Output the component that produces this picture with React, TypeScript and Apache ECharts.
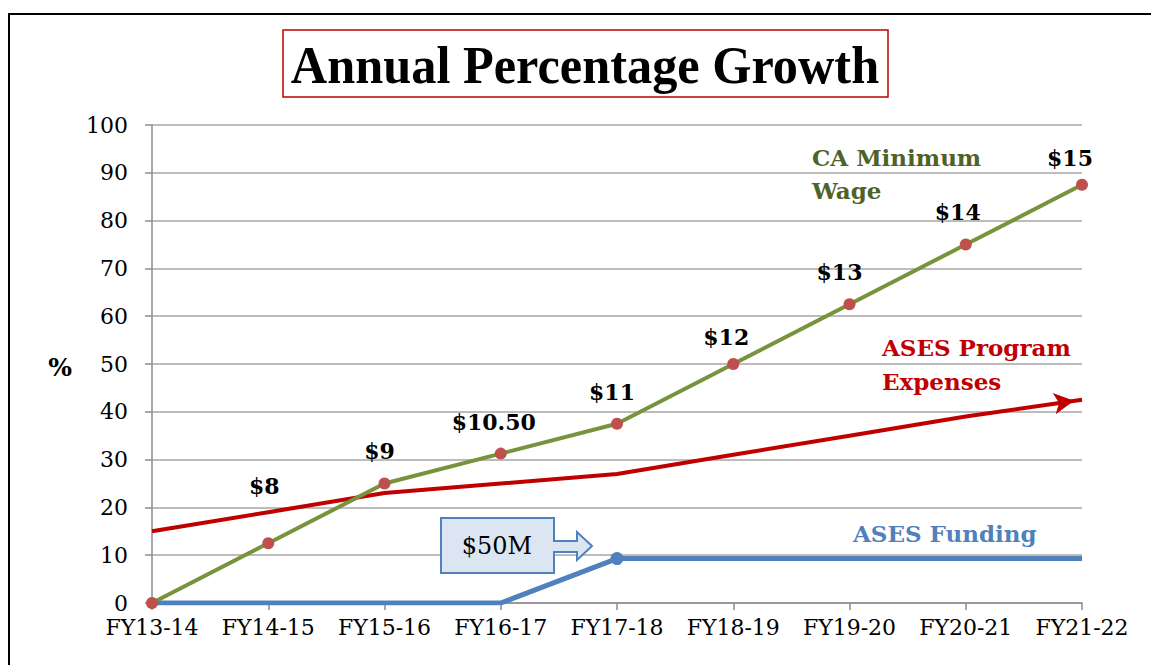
import React, { useEffect, useRef } from "react";
import * as echarts from "echarts";

const categories = ["FY13-14", "FY14-15", "FY15-16", "FY16-17", "FY17-18", "FY18-19", "FY19-20", "FY20-21", "FY21-22"];
const minWage = [0, 12.5, 25, 31.25, 37.5, 50, 62.5, 75, 87.5];
const wageLabels = ["", "$8", "$9", "$10.50", "$11", "$12", "$13", "$14", "$15"];
const wageLabelOffsets: number[][] = [[0, 0], [-4, -34], [-5, -10], [-7, -9], [-5, -9], [-7, -4], [-10, -9], [-8, -10], [-12, -4]];
const programExpenses = [15, 19, 23, 25, 27, 31, 35, 39, 42.5];
const asesFunding = [0, 0, 0, 0, 9.3, 9.3, 9.3, 9.3, 9.3];
const yTicks = { min: 0, max: 100, interval: 10 };

const FONT = "DejaVu Serif";

export default function App() {
  const ref = useRef<HTMLDivElement>(null);
  useEffect(() => {
    if (!ref.current) return;
    const chart = echarts.init(ref.current, null, { renderer: "svg" });
    const lastIdx = programExpenses.length - 1;
    chart.setOption({
      animation: false,
      backgroundColor: "#ffffff",
      grid: { left: 152, right: 69, top: 125, bottom: 62, containLabel: false },
      xAxis: {
        type: "category",
        data: categories,
        boundaryGap: false,
        axisLine: { lineStyle: { color: "#8c8c8c", width: 1.5 } },
        axisTick: { show: true, interval: 0, alignWithLabel: true, length: 7, lineStyle: { color: "#8c8c8c", width: 1.5 } },
        axisLabel: { interval: 0, hideOverlap: false, color: "#000", fontFamily: FONT, fontSize: 22, margin: 13 },
        splitLine: { show: false },
      },
      yAxis: {
        type: "value",
        min: yTicks.min,
        max: yTicks.max,
        interval: yTicks.interval,
        axisLine: { show: true, lineStyle: { color: "#8c8c8c", width: 1.5 } },
        axisTick: { show: true, length: 7, lineStyle: { color: "#8c8c8c", width: 1.5 } },
        axisLabel: { color: "#000", fontFamily: FONT, fontSize: 22, margin: 24 },
        splitLine: { show: true, lineStyle: { color: "#a6a6a6", width: 1.5 } },
      },
      series: [
        {
          name: "ASES Program Expenses",
          type: "line",
          data: programExpenses.map((v, i) =>
            i === lastIdx
              ? { value: v, symbol: "arrow", symbolSize: [16, 20], symbolRotate: -82, symbolOffset: [-8, 1], itemStyle: { color: "#C00000" } }
              : { value: v, symbol: "none" }
          ),
          lineStyle: { color: "#C00000", width: 4 },
          itemStyle: { color: "#C00000" },
          z: 2,
        },
        {
          name: "ASES Funding",
          type: "line",
          data: asesFunding.map((v, i) =>
            i === 4 ? { value: v, symbol: "circle", symbolSize: 13 } : { value: v, symbol: "none" }
          ),
          lineStyle: { color: "#4F81BD", width: 5 },
          itemStyle: { color: "#4F81BD" },
          z: 3,
        },
        {
          name: "CA Minimum Wage",
          type: "line",
          symbol: "circle",
          symbolSize: 12,
          data: minWage.map((v, i) => ({
            value: v,
            label: { show: i > 0, offset: wageLabelOffsets[i] },
          })),
          lineStyle: { color: "#77933C", width: 4 },
          itemStyle: { color: "#C0504D" },
          label: {
            show: true,
            position: "top",
            distance: 6,
            fontFamily: FONT,
            fontWeight: "bold",
            fontSize: 22,
            color: "#000",
            formatter: (p: any) => wageLabels[p.dataIndex],
          },
          z: 4,
        },
      ],
      graphic: [
        {
          type: "rect",
          shape: { x: 9, y: 14, width: 1300, height: 800 },
          style: { fill: "none", stroke: "#000", lineWidth: 2 },
          silent: true,
          z: 100,
        },
        {
          type: "rect",
          shape: { x: 283, y: 30, width: 605, height: 67 },
          style: { fill: "#fff", stroke: "#C00000", lineWidth: 1.5 },
          z: 50,
        },
        {
          type: "text",
          x: 585,
          y: 65,
          scaleX: 0.95,
          style: {
            text: "Annual Percentage Growth",
            fontFamily: "Liberation Serif",
            fontWeight: "bold",
            fontSize: 53,
            fill: "#000",
            align: "center",
            verticalAlign: "middle",
          },
          z: 51,
        },
        {
          type: "text",
          x: 60,
          y: 367,
          style: { text: "%", fontFamily: FONT, fontWeight: "bold", fontSize: 25, fill: "#000", align: "center", verticalAlign: "middle" },
        },
        {
          type: "text",
          x: 812,
          y: 174,
          style: {
            text: "CA Minimum\nWage",
            fontFamily: FONT,
            fontWeight: "bold",
            fontSize: 23,
            lineHeight: 33,
            fill: "#4F6228",
            align: "left",
            verticalAlign: "middle",
          },
        },
        {
          type: "text",
          x: 882,
          y: 364,
          style: {
            text: "ASES Program\nExpenses",
            fontFamily: FONT,
            fontWeight: "bold",
            fontSize: 23,
            lineHeight: 34,
            fill: "#C00000",
            align: "left",
            verticalAlign: "middle",
          },
        },
        {
          type: "text",
          x: 853,
          y: 533,
          style: { text: "ASES Funding", fontFamily: FONT, fontWeight: "bold", fontSize: 23, fill: "#4F81BD", align: "left", verticalAlign: "middle" },
        },
        {
          type: "polygon",
          shape: {
            points: [
              [441, 518], [554, 518], [554, 541], [577, 541], [577, 532], [592, 546],
              [577, 560], [577, 552], [554, 552], [554, 573], [441, 573],
            ],
          },
          style: { fill: "#DCE6F2", stroke: "#4F81BD", lineWidth: 2 },
          z: 60,
        },
        {
          type: "text",
          x: 497,
          y: 546,
          style: { text: "$50M", fontFamily: FONT, fontSize: 24, fill: "#000", align: "center", verticalAlign: "middle" },
          z: 61,
        },
      ],
    });
    return () => chart.dispose();
  }, []);
  return <div ref={ref} style={{ position: "fixed", left: 0, top: 0, width: 1151, height: 665 }} />;
}
